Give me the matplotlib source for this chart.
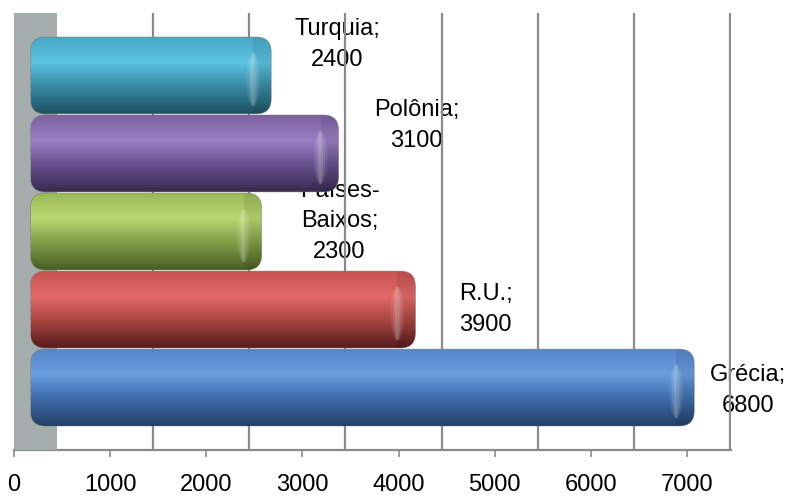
import numpy as np
import matplotlib
matplotlib.use("Agg")
import matplotlib.pyplot as plt
from matplotlib.colors import LinearSegmentedColormap
from matplotlib.patches import FancyBboxPatch, Ellipse, Rectangle
from matplotlib.transforms import blended_transform_factory

plt.rcParams["font.family"] = ["Liberation Sans", "DejaVu Sans"]

# dados (de baixo para cima)
paises = ["Grécia", "R.U.", "Países-Baixos", "Polônia", "Turquia"]
valores = [6800, 3900, 2300, 3100, 2400]
ticks = [0, 1000, 2000, 3000, 4000, 5000, 6000, 7000]

# degradê de cada cilindro: topo, brilho, meio, base
cores = [
    ["#5585c8", "#6a9ee0", "#3f6fae", "#223f66"],
    ["#c65350", "#e26a68", "#ad4743", "#561c1c"],
    ["#9aba58", "#b8d870", "#84a24a", "#465e22"],
    ["#7c619f", "#9a80c4", "#6a5290", "#37294e"],
    ["#4aa8c6", "#5cc4e4", "#3b8ca6", "#1d5262"],
]
# deslocamento dos rótulos em pixels (x, y)
desloc_rotulos = [(59, -3), (75, 0), (83, 10), (83, 28), (71, 31)]

W, H = 787, 496
fig = plt.figure(figsize=(W / 100, H / 100), dpi=100)

esq, dir_, topo, base = 14, 731, 13, 450
ppu = 96.14 / 1000            # pixels por unidade
span = (dir_ - esq) / ppu
rect = [esq / W, 1 - base / H, (dir_ - esq) / W, (base - topo) / H]

# eixo da frente (rótulos), parede do fundo (grade) e cilindros no meio
ax = fig.add_axes(rect)
ax_fundo = fig.add_axes(rect)
ax_barras = fig.add_axes(rect)

ax_fundo.set_xlim(-43 / ppu, span - 43 / ppu)
ax_fundo.axis("off")

cinza = "#8a8a8a"
trans_fundo = blended_transform_factory(ax_fundo.transData, ax_barras.transAxes)

# parede lateral cinza
x0_fundo = ax_fundo.get_xlim()[0]
ax_barras.add_patch(Rectangle((x0_fundo, 0), -x0_fundo, 1, transform=trans_fundo,
                              fc="#a5adad", ec="none", zorder=0))
# linhas de grade do fundo
ax_barras.vlines(ticks[1:], 0, 1, transform=trans_fundo, colors=cinza,
                 lw=1.6, zorder=2)

h = 0.985
cap = 5 / ppu
raio = 15 / ppu
aspecto = (1 / 78) / (1 / ppu)
grad = np.linspace(0, 1, 256).reshape(-1, 1)

for i, (nome, v, c, d) in enumerate(zip(paises, valores, cores, desloc_rotulos)):
    x0 = -cap
    largura = v + 2 * cap
    y0 = i - h / 2
    corpo = FancyBboxPatch((x0, y0), largura, h,
                           boxstyle=f"round,pad=0,rounding_size={raio}",
                           mutation_aspect=aspecto, fc="none",
                           ec="#6f6f6f", lw=0.6, alpha=0.5, zorder=5)
    ax_barras.add_patch(corpo)
    cmap = LinearSegmentedColormap.from_list(nome, list(zip([0, 0.33, 0.62, 1], c)))
    im = ax_barras.imshow(grad, extent=(x0, x0 + largura, y0, y0 + h), cmap=cmap,
                          aspect="auto", origin="upper", interpolation="bilinear",
                          zorder=3)
    im.set_clip_path(corpo)
    # tampa do cilindro: sombra e reflexo
    tampa = Rectangle((v + cap - 18 / ppu, y0), 18 / ppu, h, fc="black",
                      alpha=0.07, ec="none", zorder=4)
    ax_barras.add_patch(tampa)
    tampa.set_clip_path(corpo)
    for larg, alfa in [(14, 0.08), (9, 0.10), (5, 0.12)]:
        brilho = Ellipse((v + cap - 18 / ppu, i - 0.05), larg / ppu, h * 0.7,
                         fc="white", alpha=alfa, ec="none", zorder=4)
        ax_barras.add_patch(brilho)
        brilho.set_clip_path(corpo)

    rotulo = f"{nome.replace('-', '-' + chr(10))};\n{v}"
    ax_barras.annotate(rotulo, xy=(v, i), xytext=d, textcoords="offset pixels",
                       ha="center", va="center", fontsize=17, linespacing=1.48,
                       color="black", zorder=1)

ax_barras.set_xlim(-21.5 / ppu, span - 21.5 / ppu)
ax_barras.set_ylim(-0.8, 4.8)
ax_barras.axis("off")

# eixo horizontal da frente
ax.set_xlim(0, span)
ax.set_ylim(0, 1)
ax.set_xticks(ticks)
ax.set_yticks([])
for lado in ["top", "right", "left"]:
    ax.spines[lado].set_visible(False)
ax.spines["bottom"].set_color(cinza)
ax.spines["bottom"].set_linewidth(1.6)
ax.tick_params(axis="x", direction="out", length=5, width=1.2, colors=cinza,
               labelcolor="black", labelsize=17, pad=12)
ax.patch.set_alpha(0)

fig.savefig("out.png", dpi=100)
